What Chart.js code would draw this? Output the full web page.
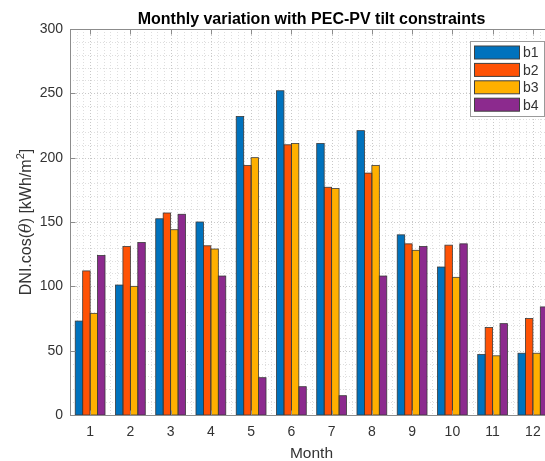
<!DOCTYPE html>
<html>
<head>
<meta charset="utf-8">
<script src="https://cdn.jsdelivr.net/npm/chart.js@4/dist/chart.umd.min.js"></script>
<style>
  html, body { margin: 0; padding: 0; background: #fff; }
  #wrap { width: 545px; height: 461px; overflow: hidden; }
</style>
</head>
<body>
<div id="wrap"><canvas id="dni-chart" width="575" height="461"></canvas></div>
<script>
const months = ['1', '2', '3', '4', '5', '6', '7', '8', '9', '10', '11', '12'];
const seriesNames = ['b1', 'b2', 'b3', 'b4'];
const b1 = [73, 101, 152.5, 150, 232, 252, 211, 221, 140, 115, 47, 48];
const b2 = [112, 131, 157, 131.5, 194, 210, 177, 188, 133, 132, 68, 75];
const b3 = [79, 100, 144, 129, 200, 211, 176, 194, 128, 107, 46, 48];
const b4 = [124, 134, 156, 108, 29, 22, 15, 108, 131, 133, 71, 84];
const yTicks = [0, 50, 100, 150, 200, 250, 300];
const colors = ['#0072BD', '#FF5205', '#FFB000', '#8C2A8E'];

const FONT = '"Liberation Sans", Arial, Helvetica, sans-serif';
const AXIS_GRAY = '#8c8c8c';
const TEXT = '#333333';

// grid, axes box, labels and the inset legend, drawn MATLAB style
const matlabAxes = {
  id: 'matlabAxes',
  beforeDatasetsDraw(chart) {
    const { ctx, chartArea: a, scales: { x, y } } = chart;
    ctx.save();
    ctx.lineWidth = 1;
    ctx.setLineDash([1, 2]);
    // horizontal minor lines every 10
    for (let v = 10; v < 300; v += 10) {
      const py = Math.round(y.getPixelForValue(v)) + 0.5;
      ctx.strokeStyle = v % 50 === 0 ? '#c8c8c8' : '#dedede';
      ctx.beginPath(); ctx.moveTo(a.left, py); ctx.lineTo(a.right, py); ctx.stroke();
    }
    // vertical lines, six per month
    const cw = (a.right - a.left) / months.length;
    for (let k = 1; k < months.length * 6; k++) {
      const px = Math.round(a.left + k * cw / 6) + 0.5;
      ctx.strokeStyle = k % 6 === 3 ? '#c8c8c8' : '#dedede';
      ctx.beginPath(); ctx.moveTo(px, a.top); ctx.lineTo(px, a.bottom); ctx.stroke();
    }
    ctx.restore();
  },
  afterDatasetsDraw(chart) {
    const { ctx, chartArea: a, scales: { x, y } } = chart;
    ctx.save();
    // bar outlines on top of the fills, so neighbours share an edge
    ctx.strokeStyle = '#3a3a3a';
    ctx.lineWidth = 0.8;
    chart.data.datasets.forEach((ds, di) => {
      chart.getDatasetMeta(di).data.forEach(bar => {
        const { x: bx, y: by, base, width } = bar.getProps(['x', 'y', 'base', 'width'], true);
        ctx.strokeRect(bx - width / 2, by, width, base - by);
      });
    });
    ctx.strokeStyle = AXIS_GRAY;
    ctx.lineWidth = 1;
    const l = Math.round(a.left) + 0.5, r = Math.round(a.right) + 0.5;
    const t = Math.round(a.top) + 0.5, b = Math.round(a.bottom) + 0.5;
    ctx.strokeRect(l, t, r - l, b - t);
    ctx.beginPath();
    months.forEach((m, i) => {
      const px = Math.round(x.getPixelForValue(i)) + 0.5;
      ctx.moveTo(px, t); ctx.lineTo(px, t + 5);
      ctx.moveTo(px, b); ctx.lineTo(px, b - 5);
    });
    yTicks.forEach(v => {
      const py = Math.round(y.getPixelForValue(v)) + 0.5;
      ctx.moveTo(l, py); ctx.lineTo(l + 5, py);
      ctx.moveTo(r, py); ctx.lineTo(r - 5, py);
    });
    ctx.stroke();
    ctx.restore();
  },
  afterDraw(chart) {
    const { ctx, chartArea: a } = chart;
    const cx = (a.left + a.right) / 2;
    ctx.save();
    ctx.fillStyle = '#000';
    ctx.textAlign = 'center';
    ctx.textBaseline = 'alphabetic';
    ctx.font = 'bold 16px ' + FONT;
    ctx.fillText('Monthly variation with PEC-PV tilt constraints', cx, 24);

    ctx.fillStyle = TEXT;
    ctx.font = '15.5px ' + FONT;
    ctx.fillText('Month', cx, 458);

    // y axis label with italic theta and superscript
    const parts = [
      { s: 'DNI.cos(', f: '16px ' + FONT, dy: 0 },
      { s: 'θ', f: 'italic 16px "DejaVu Serif", serif', dy: 0 },
      { s: ') [kWh/m', f: '16px ' + FONT, dy: 0 },
      { s: '2', f: '11px ' + FONT, dy: -7 },
      { s: ']', f: '16px ' + FONT, dy: 0 }
    ];
    let total = 0;
    parts.forEach(p => { ctx.font = p.f; p.w = ctx.measureText(p.s).width; total += p.w; });
    ctx.translate(31, (a.top + a.bottom) / 2);
    ctx.rotate(-Math.PI / 2);
    ctx.textAlign = 'left';
    let px = -total / 2;
    parts.forEach(p => { ctx.font = p.f; ctx.fillText(p.s, px, p.dy); px += p.w; });
    ctx.restore();

    // legend box inside the top-right corner
    ctx.save();
    const boxR = a.right - 9, boxL = boxR - 74, boxT = a.top + 12, rowH = 17.4;
    const n = chart.data.datasets.length;
    ctx.fillStyle = '#fff';
    ctx.fillRect(boxL, boxT, boxR - boxL, rowH * n + 5);
    ctx.strokeStyle = '#9a9a9a';
    ctx.lineWidth = 1;
    ctx.strokeRect(Math.round(boxL) + 0.5, Math.round(boxT) + 0.5, Math.round(boxR - boxL), Math.round(rowH * n + 5));
    ctx.font = '14px ' + FONT;
    ctx.textBaseline = 'middle';
    chart.data.datasets.forEach((ds, i) => {
      const yc = boxT + 11.5 + i * rowH;
      ctx.fillStyle = ds.backgroundColor;
      ctx.fillRect(boxL + 4.5, yc - 6.5, 45, 13);
      ctx.strokeStyle = '#404040';
      ctx.strokeRect(boxL + 4.5, yc - 6.5, 45, 13);
      ctx.fillStyle = TEXT;
      ctx.fillText(ds.label, boxL + 53, yc + 1);
    });
    ctx.restore();
  }
};

const series = [b1, b2, b3, b4];

new Chart(document.getElementById('dni-chart'), {
  type: 'bar',
  data: {
    labels: months,
    datasets: series.map((vals, i) => ({
      label: seriesNames[i],
      data: vals,
      backgroundColor: colors[i],
      borderWidth: 0,
      inflateAmount: 0
    }))
  },
  options: {
    responsive: false,
    devicePixelRatio: 1,
    animation: false,
    datasets: { bar: { categoryPercentage: 0.74, barPercentage: 1.0 } },
    layout: { padding: { top: 29, right: 22, bottom: 0, left: 0 } },
    plugins: { legend: { display: false }, title: { display: false }, tooltip: { enabled: false } },
    scales: {
      x: {
        type: 'category',
        offset: true,
        grid: { display: false, drawTicks: false },
        border: { display: false },
        ticks: { color: TEXT, font: { family: FONT, size: 14 }, padding: 9, maxRotation: 0 },
        afterFit: s => { s.height = 46; }
      },
      y: {
        min: 0,
        max: 300,
        grid: { display: false, drawTicks: false },
        border: { display: false },
        ticks: { stepSize: 50, color: TEXT, font: { family: FONT, size: 14 }, padding: 7 },
        afterFit: s => { s.width = 70; }
      }
    }
  },
  plugins: [matlabAxes]
});
</script>
</body>
</html>
